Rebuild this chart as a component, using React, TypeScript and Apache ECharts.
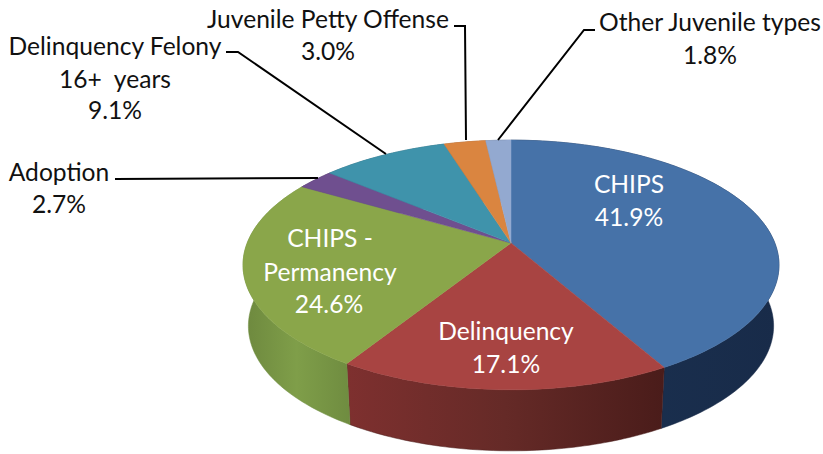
import React, { useEffect, useRef } from "react";
import * as echarts from "echarts";

const sliceNames = ["CHIPS", "Delinquency", "CHIPS - Permanency", "Adoption", "Delinquency Felony 16+ years", "Juvenile Petty Offense", "Other Juvenile types"];
const sliceValues = [41.9, 17.1, 24.6, 2.7, 9.1, 3.0, 1.8];
const topColors = ["#4672a8", "#a84442", "#8aa64a", "#6f4f8f", "#3f93ab", "#da8540", "#93a9d0"];
const wallStops = [
  ["#1b3252", "#182b49"],
  ["#7e302f", "#652a27", "#4a1c1a"],
  ["#6d883e", "#7f9e49", "#6f8c40"],
  ["#4a3360", "#4a3360"],
  ["#2a6373", "#2a6373"],
  ["#94582a", "#94582a"],
  ["#62718c", "#62718c"],
];

const labelLines: [string, number, number, string][] = [
  ["Juvenile Petty Offense", 328, 18, "#111"],
  ["3.0%", 328, 50, "#111"],
  ["Delinquency Felony", 115, 45, "#111"],
  ["16+  years", 115, 78, "#111"],
  ["9.1%", 115, 109, "#111"],
  ["Adoption", 59, 171, "#111"],
  ["2.7%", 59, 203, "#111"],
  ["Other Juvenile types", 710, 21, "#111"],
  ["1.8%", 710, 54, "#111"],
  ["CHIPS", 629, 183, "#fff"],
  ["41.9%", 629, 216, "#fff"],
  ["CHIPS -", 330, 237, "#fff"],
  ["Permanency", 330, 271, "#fff"],
  ["24.6%", 329, 303, "#fff"],
  ["Delinquency", 506, 330, "#fff"],
  ["17.1%", 506, 363, "#fff"],
];

const leaders: number[][][] = [
  [[226, 52], [238, 52], [386, 154]],
  [[115, 179], [318, 178]],
  [[454, 26], [465, 26], [466, 140]],
  [[595, 30], [584, 30], [498, 140]],
];

const CX = 511, CY = 243, A = 263.8, B = 121, TILT = 0.176;
const WALL_SX = 0.98, WALL_SY = 1.0, WALL_CY = 304;
const total = sliceValues.reduce((s, v) => s + v, 0);

function project(deg: number, sx: number, sy: number, cy: number): number[] {
  const r = (deg * Math.PI) / 180;
  const u = Math.sin(r), v = -Math.cos(r);
  const w = 1 - TILT * v;
  return [CX + (sx * A * u) / w, cy + (sy * B * v) / w];
}

function arc(from: number, to: number, sx: number, sy: number, cy: number): number[][] {
  const pts: number[][] = [];
  const n = Math.max(2, Math.ceil(to - from));
  for (let i = 0; i <= n; i++) pts.push(project(from + ((to - from) * i) / n, sx, sy, cy));
  return pts;
}

function range(i: number): [number, number] {
  let s = 0;
  for (let k = 0; k < i; k++) s += sliceValues[k];
  return [(s / total) * 360, ((s + sliceValues[i]) / total) * 360];
}

export default function App() {
  const ref = useRef<HTMLDivElement>(null);
  useEffect(() => {
    const chart = echarts.init(ref.current!, undefined, { renderer: "svg" });
    const data = sliceValues.map((value, i) => ({ name: sliceNames[i], value }));
    chart.setOption({
      animation: false,
      backgroundColor: "#ffffff",
      series: [
        {
          type: "custom",
          coordinateSystem: "none",
          silent: true,
          data,
          z: 1,
          renderItem: (p: any) => {
            const [a, b] = range(p.dataIndex);
            const top = arc(a, b, 1, 1, CY);
            const bottom = arc(a, b, WALL_SX, WALL_SY, WALL_CY).reverse();
            const stops = wallStops[p.dataIndex];
            return {
              type: "polygon",
              shape: { points: top.concat(bottom) },
              style: {
                fill: {
                  type: "linear", x: 0, y: 0, x2: 1, y2: 0,
                  colorStops: stops.map((color, k) => ({ offset: k / (stops.length - 1), color })),
                },
                stroke: stops[stops.length - 1],
                lineWidth: 0.5,
              },
            };
          },
        },
        {
          type: "custom",
          coordinateSystem: "none",
          silent: true,
          data,
          z: 2,
          renderItem: (p: any) => {
            const [a, b] = range(p.dataIndex);
            const color = topColors[p.dataIndex];
            return {
              type: "polygon",
              shape: { points: [[CX, CY], ...arc(a, b, 1, 1, CY)] },
              style: { fill: color, stroke: color, lineWidth: 0.5 },
            };
          },
        },
      ],
      graphic: [
        ...leaders.map((points) => ({
          type: "polyline",
          z: 10,
          shape: { points },
          style: { fill: "none", stroke: "#000", lineWidth: 2 },
        })),
        ...labelLines.map(([text, x, y, fill]) => ({
          type: "text",
          z: 11,
          x,
          y,
          style: { text, fill, font: "24.6px Lato", align: "center", verticalAlign: "middle" },
        })),
      ],
    });
    return () => chart.dispose();
  }, []);
  return <div ref={ref} style={{ position: "fixed", left: 0, top: 0, width: 823, height: 454 }} />;
}
